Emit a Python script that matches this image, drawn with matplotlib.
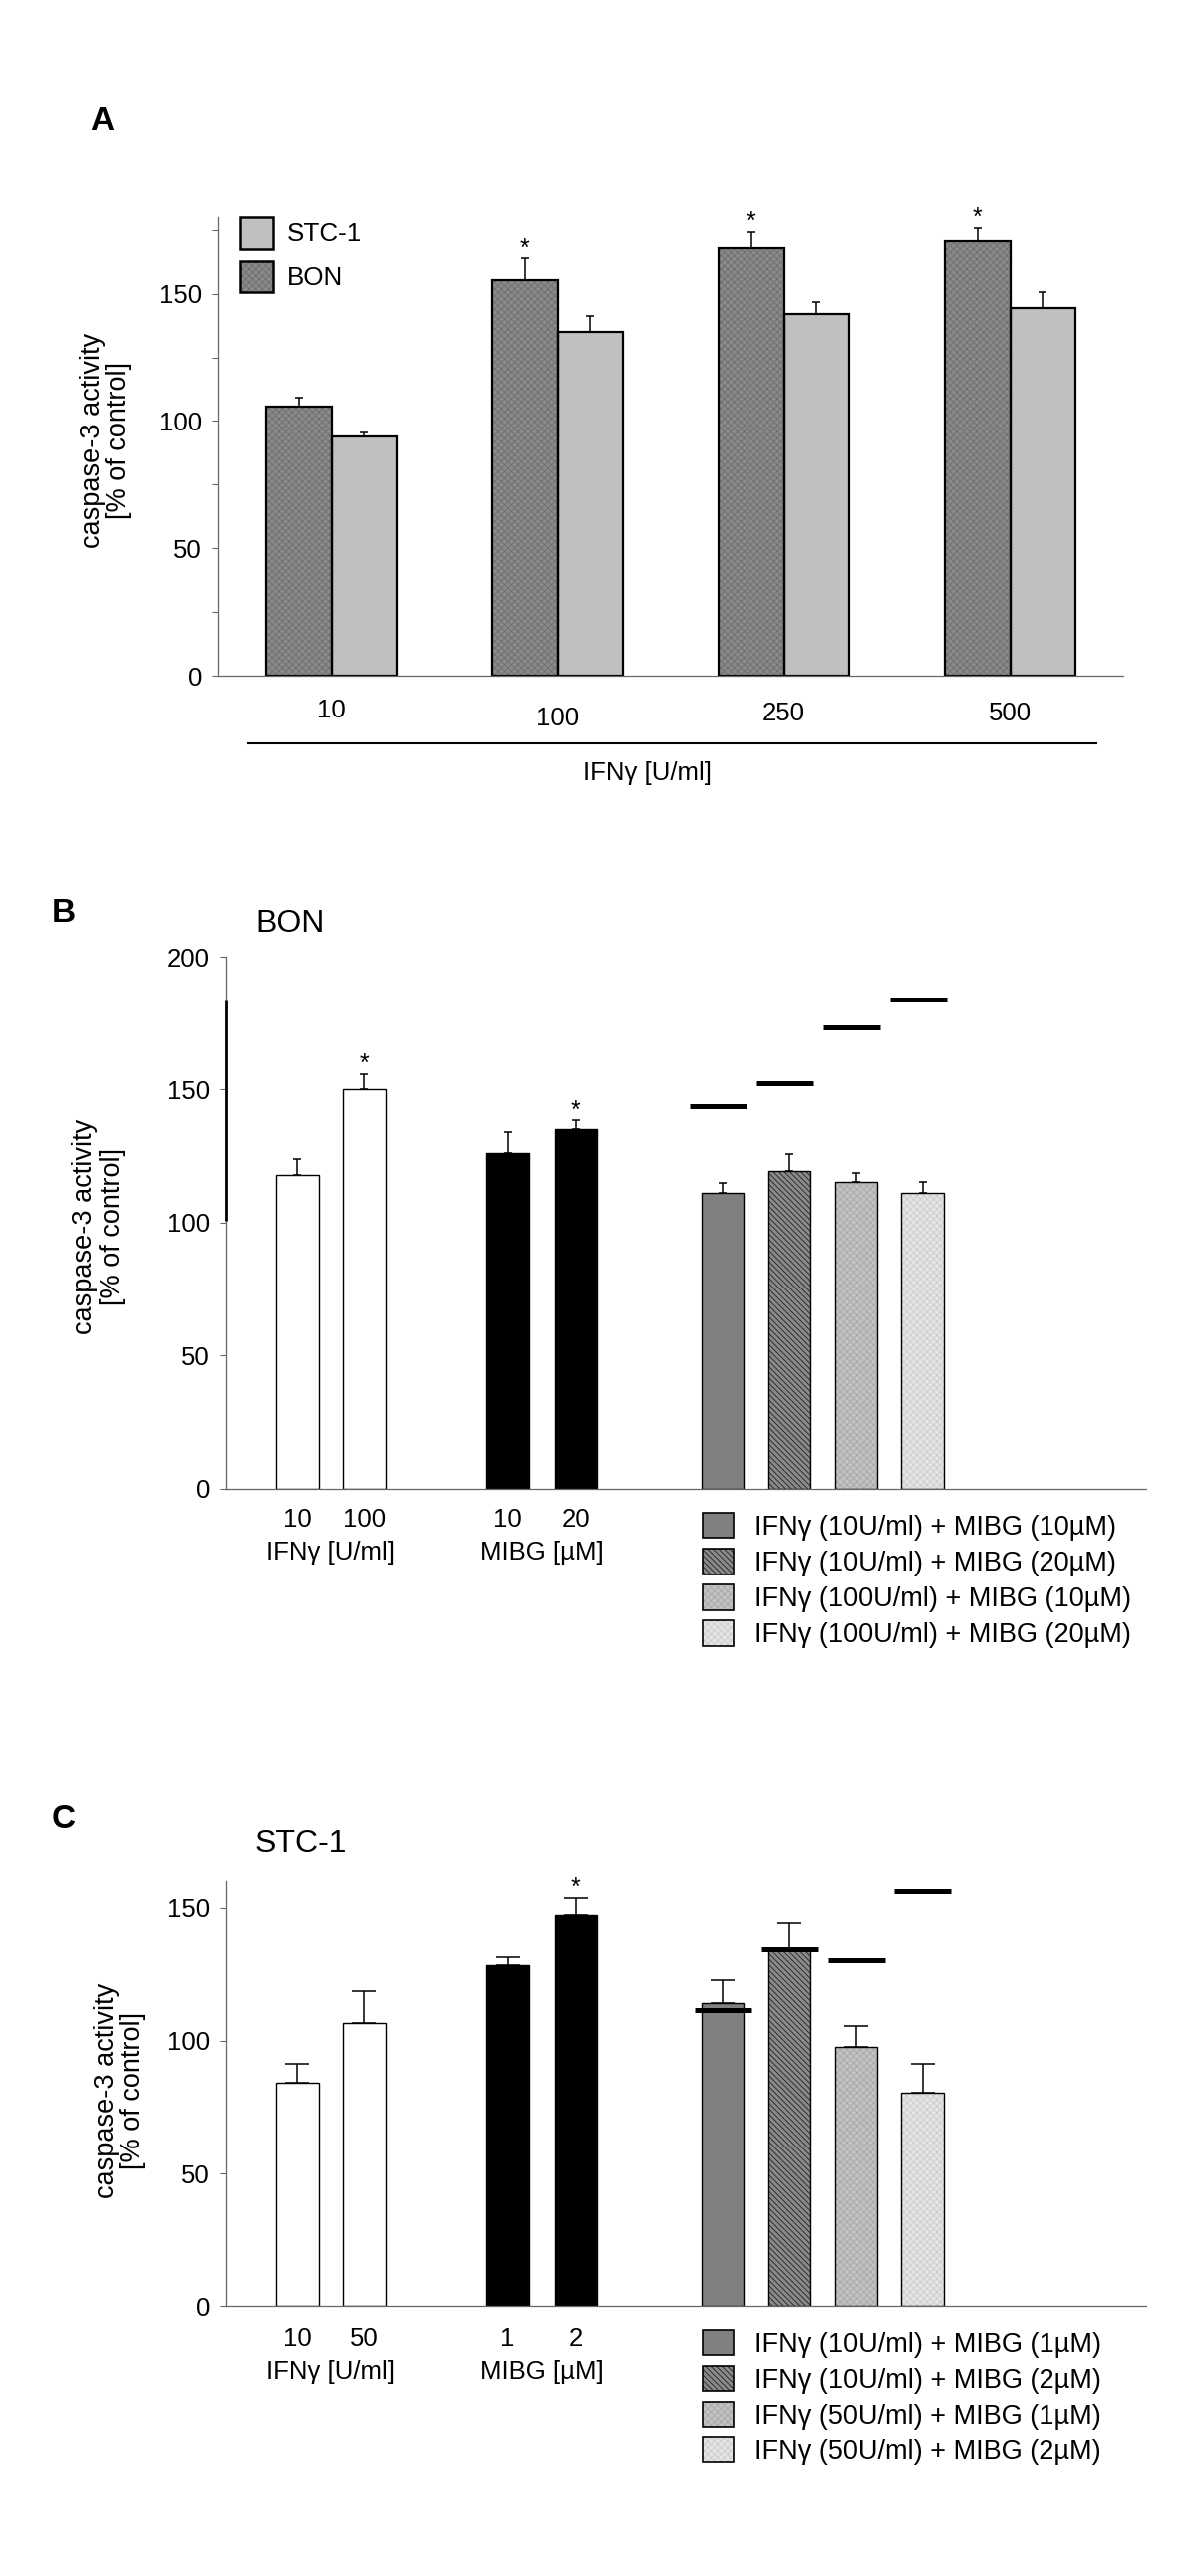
import numpy as np
import matplotlib
matplotlib.use('Agg')
import matplotlib.pyplot as plt
from matplotlib.patches import Patch
from matplotlib.lines import Line2D
from matplotlib.legend_handler import HandlerTuple
from matplotlib.transforms import blended_transform_factory

# Figure size in pixels (dpi 100).
W, H = 1200, 2585

plt.rcParams['font.family'] = ['Liberation Sans', 'DejaVu Sans']
plt.rcParams['hatch.linewidth'] = 0.6

# Panel A: BON vs STC-1, IFNg dose series.
a_doses = ['10', '100', '250', '500']
a_bon = [105.5, 155.4, 167.8, 170.6]
a_bon_err = [3.5, 8.5, 6.3, 5.1]
a_stc = [94.1, 134.9, 142.2, 144.4]
a_stc_err = [1.2, 6.3, 4.5, 6.3]
a_bon_sig = [False, True, True, True]

# Panel B: BON cells.
b_ifn_doses = ['10', '100']
b_ifn = [117.8, 150.1]
b_ifn_err = [6.0, 5.8]
b_mibg_doses = ['10', '20']
b_mibg = [126.3, 135.1]
b_mibg_err = [7.7, 3.3]
b_combo_labels = ['IFNγ (10U/ml) + MIBG (10µM)', 'IFNγ (10U/ml) + MIBG (20µM)',
                  'IFNγ (100U/ml) + MIBG (10µM)', 'IFNγ (100U/ml) + MIBG (20µM)']
b_combo = [111.3, 119.3, 115.4, 111.3]
b_combo_err = [3.5, 6.6, 3.2, 4.1]
b_expected = [143.9, 152.3, 173.2, 183.9]
b_sig = [False, True, False, True, False, False, False, False]

# Panel C: STC-1 cells.
c_ifn_doses = ['10', '50']
c_ifn = [84.1, 106.8]
c_ifn_err = [7.1, 12.1]
c_mibg_doses = ['1', '2']
c_mibg = [128.4, 147.3]
c_mibg_err = [3.0, 6.4]
c_combo_labels = ['IFNγ (10U/ml) + MIBG (1µM)', 'IFNγ (10U/ml) + MIBG (2µM)',
                  'IFNγ (50U/ml) + MIBG (1µM)', 'IFNγ (50U/ml) + MIBG (2µM)']
c_combo = [114.2, 134.6, 97.6, 80.6]
c_combo_err = [8.6, 9.7, 8.1, 10.6]
c_expected = [111.5, 134.6, 130.5, 156.2]
c_sig = [False, False, False, True, False, False, False, False]

YLABEL = 'caspase-3 activity\n[% of control]'

# bar styles: (face, hatch, hatch colour)
BON_STYLE = ('#8a8a8a', 'xxxxx', '#6e6e6e')
STC_STYLE = ('#c0c0c0', None, None)
COMBO_STYLES = [('#808080', None, None),
                ('#8a8a8a', '\\\\\\\\\\\\', '#202020'),
                ('#c2c2c2', 'xxxxx', '#a8a8a8'),
                ('#e4e4e4', 'xxxxx', '#cccccc')]

fig = plt.figure(figsize=(W / 100, H / 100), dpi=100)


def fx(x):
    return x / W


def fy(y):
    return 1 - y / H


def add_axes(left, top, right, bottom):
    return fig.add_axes([fx(left), fy(bottom), (right - left) / W, (bottom - top) / H])


def style_axes(ax, ylim, yticks, xlim):
    ax.set_xlim(xlim)
    ax.set_ylim(ylim)
    ax.set_yticks(yticks)
    for s in ['top', 'right']:
        ax.spines[s].set_visible(False)
    for s in ['left', 'bottom']:
        ax.spines[s].set_color('#666666')
        ax.spines[s].set_linewidth(0.9)
    ax.tick_params(axis='y', which='both', direction='out', length=4.5, width=0.8,
                   color='#666666', labelsize=18.5, pad=7)
    ax.tick_params(axis='x', length=0, labelbottom=False)


def bars(ax, x, h, err, w, st, lw=1.2, capsize=3):
    fc, hatch, hc = st
    ax.bar(x, h, w, color=fc, linewidth=0, zorder=2)
    if hatch:
        ax.bar(x, h, w, fill=False, edgecolor=hc, linewidth=0, hatch=hatch, zorder=2.1)
    ax.bar(x, h, w, fill=False, edgecolor='black', linewidth=lw, zorder=2.2)
    ax.errorbar(x, h, yerr=[np.zeros(len(h)), err], fmt='none', ecolor='black',
                elinewidth=1.1, capsize=capsize, capthick=1.1, zorder=3)


def stars(ax, x, h, err, sig):
    for xi, hi, ei, s in zip(x, h, err, sig):
        if s:
            ax.annotate('*', (xi, hi + ei), xytext=(0, 2), textcoords='offset points',
                        ha='center', va='baseline', fontsize=18)


def handle(st, lw=1.4):
    fc, hatch, hc = st
    parts = [Patch(facecolor=fc, linewidth=0)]
    if hatch:
        parts.append(Patch(facecolor='none', edgecolor=hc, linewidth=0, hatch=hatch))
    parts.append(Patch(facecolor='none', edgecolor='black', linewidth=lw))
    return tuple(parts)


def panel_letter(x, y, letter):
    fig.text(fx(x), fy(y), letter, ha='center', va='center', fontsize=24, fontweight='bold')


# ---------------- Panel A ----------------
axA = add_axes(219, 218, 1127, 678)
style_axes(axA, (0, 180), [0, 50, 100, 150], (-0.5, 3.5))
axA.set_yticks([25, 75, 125, 175], minor=True)
xa = np.arange(len(a_doses))
bw = 0.287
bars(axA, xa + bw / 2, a_stc, a_stc_err, bw, STC_STYLE, lw=1.6)
bars(axA, xa - bw / 2, a_bon, a_bon_err, bw, BON_STYLE, lw=1.6)
stars(axA, xa - bw / 2, a_bon, a_bon_err, a_bon_sig)

trA = blended_transform_factory(axA.transData, fig.transFigure)
a_label_y = [713, 721, 716, 716]
for i, lab in enumerate(a_doses):
    axA.text(xa[i], fy(a_label_y[i]), lab, transform=trA, ha='center', va='center', fontsize=18.5)
fig.add_artist(Line2D([fx(249), fx(1100)], [fy(746), fy(746)], color='black', lw=1.5))
fig.text(fx(649), fy(776), 'IFNγ [U/ml]', ha='center', va='center', fontsize=18.5)

axA.legend([handle(STC_STYLE, 1.8), handle(BON_STYLE, 1.8)], ['STC-1', 'BON'],
           loc='upper left', bbox_to_anchor=(fx(241), fy(218)), bbox_transform=fig.transFigure,
           frameon=False, fontsize=18.7, handlelength=1.27, handleheight=1.5,
           labelspacing=0.46, handletextpad=0.54, borderpad=0, borderaxespad=0,
           handler_map={tuple: HandlerTuple(ndivide=1, pad=0)})

panel_letter(102, 122, 'A')
fig.text(fx(106), fy(442), YLABEL, rotation=90, ha='center', va='center', fontsize=19.5,
         linespacing=1.05)

# ---------------- Panels B and C ----------------
pos = np.array([0, 1, 3.15, 4.17, 6.37, 7.37, 8.37, 9.36])
XLIM_BC = (-1.067, 12.71)


def combo_panel(top, bottom, ylim, yticks, ifn, ifn_err, mibg, mibg_err, combo, combo_err,
                expected, sig, ifn_doses, mibg_doses, combo_labels, title, title_y,
                num_y, grp_y, leg_top, ylab_xy, capsize, line_shift, box_h):
    ax = add_axes(227, top, 1150, bottom)
    style_axes(ax, ylim, yticks, XLIM_BC)
    w = 0.63
    bars(ax, pos[0:2], ifn, ifn_err, w, ('white', None, None), lw=1.0, capsize=capsize)
    bars(ax, pos[2:4], mibg, mibg_err, w, ('black', None, None), lw=1.0, capsize=capsize)
    for i in range(4):
        bars(ax, pos[4 + i:5 + i], combo[i:i + 1], combo_err[i:i + 1], w, COMBO_STYLES[i],
             lw=1.0, capsize=capsize)
    allh = ifn + mibg + combo
    allerr = ifn_err + mibg_err + combo_err
    stars(ax, pos, allh, allerr, sig)
    xs = pos[4:] + line_shift
    ax.hlines(expected, xs - 0.425, xs + 0.425, color='black', lw=3.6, zorder=4)

    tr = blended_transform_factory(ax.transData, fig.transFigure)
    for p, lab in zip(pos[0:4], ifn_doses + mibg_doses):
        ax.text(p, fy(num_y), lab, transform=tr, ha='center', va='center', fontsize=18.5)
    ax.text(pos[0:2].mean(), fy(grp_y), 'IFNγ [U/ml]', transform=tr, ha='center',
            va='center', fontsize=18.5)
    ax.text(pos[2:4].mean(), fy(grp_y), 'MIBG [µM]', transform=tr, ha='center',
            va='center', fontsize=18.5)

    ax.legend([handle(s, 1.2) for s in COMBO_STYLES], combo_labels, loc='upper left',
              bbox_to_anchor=(fx(705), fy(leg_top)), bbox_transform=fig.transFigure,
              frameon=False, fontsize=19.5, handlelength=1.15, handleheight=box_h,
              labelspacing=0.30, handletextpad=0.78, borderpad=0, borderaxespad=0,
              handler_map={tuple: HandlerTuple(ndivide=1, pad=0)})

    fig.text(fx(256), fy(title_y), title, ha='left', va='center', fontsize=23)
    fig.text(fx(ylab_xy[0]), fy(ylab_xy[1]), YLABEL, rotation=90, ha='center', va='center',
             fontsize=19.5, linespacing=1.05)
    return ax


axB = combo_panel(960, 1493.5, (0, 200), [0, 50, 100, 150, 200], b_ifn, b_ifn_err, b_mibg,
                  b_mibg_err, b_combo, b_combo_err, b_expected, b_sig, b_ifn_doses,
                  b_mibg_doses, b_combo_labels, 'BON', 927, 1524.6, 1558.5, 1518,
                  (99, 1231), 2.9, -0.065, 1.07)
# dark stroke drawn along the left axis in the original figure
axB.plot([XLIM_BC[0], XLIM_BC[0]], [100.7, 183.9], color='black', lw=2, clip_on=False,
         solid_capstyle='butt', zorder=5)
panel_letter(64, 916, 'B')

axC = combo_panel(1888, 2314.3, (0, 160), [0, 50, 100, 150], c_ifn, c_ifn_err, c_mibg,
                  c_mibg_err, c_combo, c_combo_err, c_expected, c_sig, c_ifn_doses,
                  c_mibg_doses, c_combo_labels, 'STC-1', 1850, 2347, 2380, 2338,
                  (120, 2098), 8.3, 0.0, 1.05)
panel_letter(64, 1826, 'C')

fig.savefig('out.png', dpi=100)
